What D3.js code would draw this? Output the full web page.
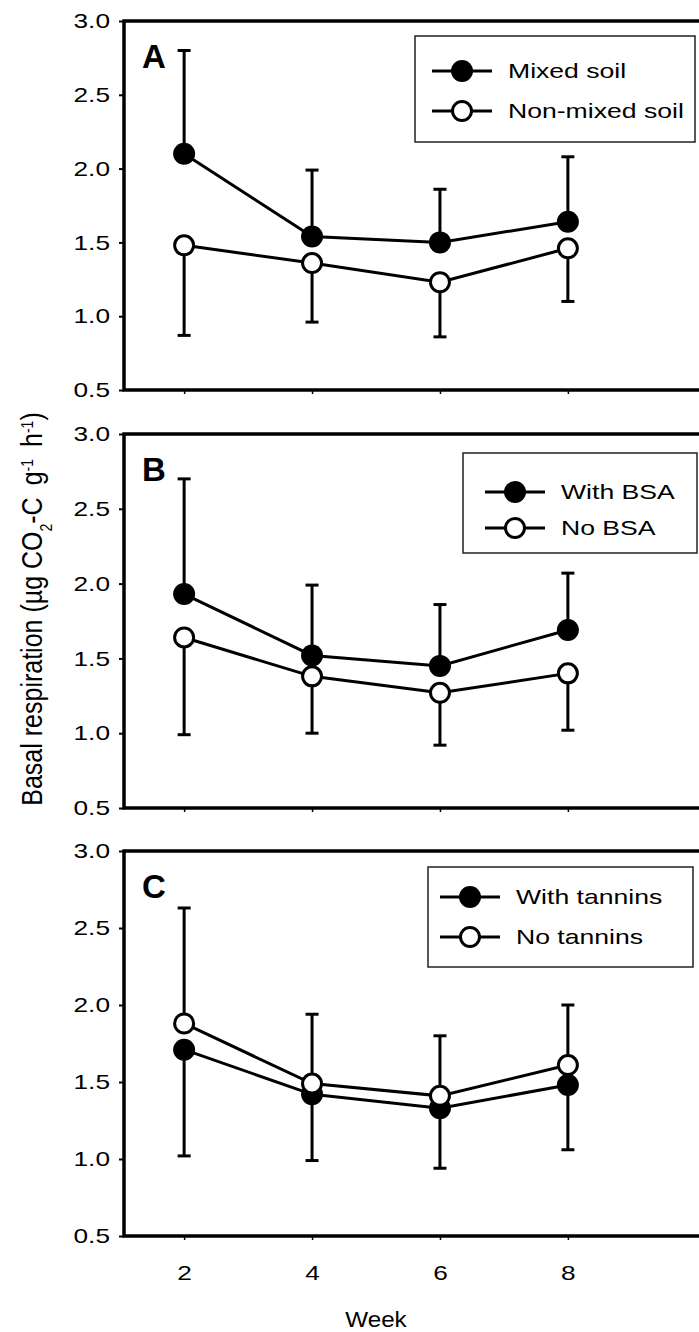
<!DOCTYPE html>
<html>
<head>
<meta charset="utf-8">
<script src="https://cdn.jsdelivr.net/npm/d3@7"></script>
<style>
  body { margin: 0; background: #fff; }
  svg { display: block; font-family: 'Liberation Sans', Arial, sans-serif; }
</style>
</head>
<body>
<div id="chart"></div>
<script>
// x values and tick labels
const weeks = [2, 4, 6, 8];
const yTicks = [0.5, 1.0, 1.5, 2.0, 2.5, 3.0];

// panel A
const mixedSoil = [2.10, 1.54, 1.50, 1.64];
const mixedSoilErr = [0.70, 0.45, 0.36, 0.44];
const nonMixedSoil = [1.48, 1.36, 1.23, 1.46];
const nonMixedSoilErr = [0.61, 0.40, 0.37, 0.36];

// panel B
const withBSA = [1.93, 1.52, 1.45, 1.69];
const withBSAErr = [0.77, 0.47, 0.41, 0.38];
const noBSA = [1.64, 1.38, 1.27, 1.40];
const noBSAErr = [0.65, 0.38, 0.35, 0.38];

// panel C
const withTannins = [1.71, 1.42, 1.33, 1.48];
const withTanninsErr = [0.69, 0.43, 0.39, 0.42];
const noTannins = [1.88, 1.49, 1.41, 1.61];
const noTanninsErr = [0.75, 0.45, 0.39, 0.39];

// panel table built from the arrays above (dir: 1 = upper bar, -1 = lower bar)
const panels = [
    { letter: "A", top: 21, bottom: 390, legendBox: [415, 36, 280, 106], legendX: 432, legendRows: [71, 111],
      series: [
        { name: "Mixed soil", values: mixedSoil, err: mixedSoilErr, dir: 1, filled: true },
        { name: "Non-mixed soil", values: nonMixedSoil, err: nonMixedSoilErr, dir: -1, filled: false }
      ] },
    { letter: "B", top: 434, bottom: 808, legendBox: [463, 453, 234, 100], legendX: 485, legendRows: [492, 528],
      series: [
        { name: "With BSA", values: withBSA, err: withBSAErr, dir: 1, filled: true },
        { name: "No BSA", values: noBSA, err: noBSAErr, dir: -1, filled: false }
      ] },
    { letter: "C", top: 851, bottom: 1236, legendBox: [428, 867, 265, 100], legendX: 440, legendRows: [897, 937],
      series: [
        { name: "With tannins", values: withTannins, err: withTanninsErr, dir: -1, filled: true },
        { name: "No tannins", values: noTannins, err: noTanninsErr, dir: 1, filled: false }
      ] }
];

const width = 699, height = 1332;
const left = 124, right = 699;
// the printed face is a wide grotesque, so text gets stretched sideways
const stretch = 1.25;

const svg = d3.select("#chart")
    .append("svg")
    .attr("width", width)
    .attr("height", height);

const x = d3.scaleLinear()
    .domain([1.06, 10.05])
    .range([left, right]);

panels.forEach(function(p) {
    const y = d3.scaleLinear()
        .domain([0.5, 3.0])
        .range([p.bottom, p.top]);

    const g = svg.append("g");

    // y axis
    const yAxis = g.append("g")
        .attr("transform", "translate(" + left + ",0)")
        .call(d3.axisLeft(y).tickValues(yTicks).tickSize(5).tickFormat(d3.format(".1f")));
    yAxis.select(".domain").remove();
    yAxis.selectAll("line").attr("stroke", "#000").attr("stroke-width", 2);
    yAxis.selectAll("text")
        .attr("x", null)
        .attr("transform", "translate(-14,0) scale(" + stretch + ",1)")
        .attr("fill", "#000")
        .style("font-size", "21px");

    // x axis (small ticks below the line)
    const xAxis = g.append("g")
        .attr("transform", "translate(0," + p.bottom + ")")
        .call(d3.axisBottom(x).tickValues(weeks).tickSize(4).tickFormat(p.letter == "C" ? d3.format("d") : ""));
    xAxis.select(".domain").remove();
    xAxis.selectAll("line").attr("stroke", "#000").attr("stroke-width", 1.5);
    xAxis.selectAll("text")
        .attr("y", 0)
        .attr("dy", 0)
        .attr("transform", "translate(0,44) scale(" + stretch + ",1)")
        .attr("fill", "#000")
        .style("font-size", "21px");

    // frame: left, top, bottom lines
    g.append("path")
        .attr("d", "M" + right + "," + p.top + " H" + left + " V" + p.bottom + " H" + right)
        .attr("fill", "none")
        .attr("stroke", "#000")
        .attr("stroke-width", 3.5);

    // panel letter
    g.append("text")
        .attr("x", 142)
        .attr("y", p.top + 47)
        .style("font-size", "33px")
        .style("font-weight", "bold")
        .text(p.letter);

    // error bars
    p.series.forEach(function(s) {
        const eb = g.append("g");
        weeks.forEach(function(w, i) {
            const y0 = y(s.values[i]);
            const y1 = y(s.values[i] + s.dir * s.err[i]);
            eb.append("line")
                .attr("x1", x(w)).attr("x2", x(w))
                .attr("y1", y0).attr("y2", y1)
                .attr("stroke", "#000").attr("stroke-width", 3);
            eb.append("line")
                .attr("x1", x(w) - 6.5).attr("x2", x(w) + 6.5)
                .attr("y1", y1).attr("y2", y1)
                .attr("stroke", "#000").attr("stroke-width", 3);
        });
    });

    // lines
    const line = d3.line()
        .x(function(d, i) { return x(weeks[i]); })
        .y(function(d) { return y(d); });
    p.series.forEach(function(s) {
        g.append("path")
            .datum(s.values)
            .attr("d", line)
            .attr("fill", "none")
            .attr("stroke", "#000")
            .attr("stroke-width", 3);
    });

    // markers
    p.series.forEach(function(s) {
        g.selectAll(null)
            .data(s.values)
            .enter()
            .append("circle")
            .attr("cx", function(d, i) { return x(weeks[i]); })
            .attr("cy", function(d) { return y(d); })
            .attr("r", s.filled ? 11 : 9.5)
            .attr("fill", s.filled ? "#000" : "#fff")
            .attr("stroke", "#000")
            .attr("stroke-width", s.filled ? 0 : 3);
    });

    // legend
    const lg = g.append("g");
    lg.append("rect")
        .attr("x", p.legendBox[0]).attr("y", p.legendBox[1])
        .attr("width", p.legendBox[2]).attr("height", p.legendBox[3])
        .attr("fill", "#fff")
        .attr("stroke", "#222")
        .attr("stroke-width", 1.5);
    p.series.forEach(function(s, i) {
        const ly = p.legendRows[i];
        lg.append("line")
            .attr("x1", p.legendX).attr("x2", p.legendX + 60)
            .attr("y1", ly).attr("y2", ly)
            .attr("stroke", "#000").attr("stroke-width", 3);
        lg.append("circle")
            .attr("cx", p.legendX + 30).attr("cy", ly)
            .attr("r", s.filled ? 11 : 9.5)
            .attr("fill", s.filled ? "#000" : "#fff")
            .attr("stroke", "#000")
            .attr("stroke-width", s.filled ? 0 : 3);
        lg.append("text")
            .attr("transform", "translate(" + (p.legendX + 76) + "," + ly + ") scale(1.33,1)")
            .attr("dy", "0.36em")
            .style("font-size", "20px")
            .text(s.name);
    });
});

// y axis title
const yTitle = svg.append("text")
    .attr("transform", "translate(42,609) scale(1.15,1) rotate(-90)")
    .attr("text-anchor", "middle")
    .style("font-size", "25px");
yTitle.append("tspan").text("Basal respiration (µg CO");
yTitle.append("tspan").attr("baseline-shift", "sub").style("font-size", "14px").text("2");
yTitle.append("tspan").text("-C");
yTitle.append("tspan").attr("dx", 12).text("g");
yTitle.append("tspan").attr("baseline-shift", "super").style("font-size", "14px").text("-1");
yTitle.append("tspan").attr("dx", 12).text("h");
yTitle.append("tspan").attr("baseline-shift", "super").style("font-size", "14px").text("-1");
yTitle.append("tspan").text(")");

// x axis title
svg.append("text")
    .attr("transform", "translate(" + x(5) + ",1327) scale(1.1,1)")
    .attr("text-anchor", "middle")
    .style("font-size", "22px")
    .text("Week");
</script>
</body>
</html>
